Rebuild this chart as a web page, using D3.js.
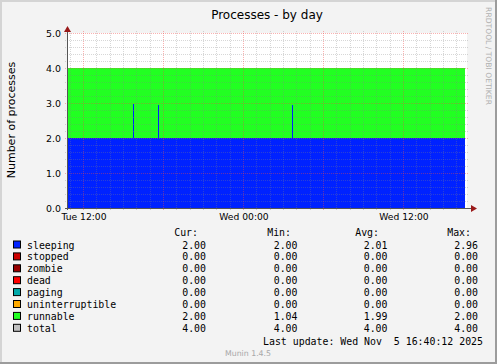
<!DOCTYPE html>
<html>
<head>
<meta charset="utf-8">
<script src="https://cdn.jsdelivr.net/npm/d3@7"></script>
<style>
  body { margin: 0; background: #f3f3f3; }
  text { font-family: "DejaVu Sans", sans-serif; }
  .mono { font-family: "DejaVu Sans Mono", monospace; font-size: 9.9px; white-space: pre; }
</style>
</head>
<body>
<div id="chart"></div>
<script>
var sampleTimes = ["2025-11-04T10:48", "2025-11-04T15:44", "2025-11-04T15:49", "2025-11-04T17:37", "2025-11-04T17:42",
                   "2025-11-05T03:40", "2025-11-05T03:45", "2025-11-05T16:40"];
var sleeping        = [2.00, 2.96, 2.00, 2.95, 2.00, 2.95, 2.00, 2.00];
var stopped         = [0, 0, 0, 0, 0, 0, 0, 0];
var zombie          = [0, 0, 0, 0, 0, 0, 0, 0];
var dead            = [0, 0, 0, 0, 0, 0, 0, 0];
var paging          = [0, 0, 0, 0, 0, 0, 0, 0];
var uninterruptible = [0, 0, 0, 0, 0, 0, 0, 0];
var runnable        = [2.00, 1.04, 2.00, 1.05, 2.00, 1.05, 2.00, 2.00];

var seriesNames  = ["sleeping", "stopped", "zombie", "dead", "paging", "uninterruptible", "runnable", "total"];
var seriesColors = ["#0022ff", "#cc0000", "#990000", "#ff0000", "#00aaaa", "#ffaa00", "#22ff22", "#c0c0c0"];
var curValues = ["2.00", "0.00", "0.00", "0.00", "0.00", "0.00", "2.00", "4.00"];
var minValues = ["2.00", "0.00", "0.00", "0.00", "0.00", "0.00", "1.04", "4.00"];
var avgValues = ["2.01", "0.00", "0.00", "0.00", "0.00", "0.00", "1.99", "4.00"];
var maxValues = ["2.96", "0.00", "0.00", "0.00", "0.00", "0.00", "2.00", "4.00"];

var yTicks = [0, 1, 2, 3, 4, 5];
var xLabelTimes = ["2025-11-04T12:00", "2025-11-05T00:00", "2025-11-05T12:00"];
var xLabels = ["Tue 12:00", "Wed 00:00", "Wed 12:00"];
var timeStart = "2025-11-04T10:48", timeEnd = "2025-11-05T16:48";

var W = 497, H = 364;
var pLeft = 67, pRight = 467, pTop = 33, pBottom = 208;

var svg = d3.select("#chart").append("svg")
    .attr("width", W).attr("height", H)

// background + 3d frame
svg.append("rect").attr("width", W).attr("height", H).attr("fill", "#f3f3f3")
svg.append("path").attr("d", "M1,363 V1 H496").attr("fill", "none").attr("stroke", "#d4d4d4").attr("stroke-width", 2)
svg.append("path").attr("d", "M0,363 H496 V0").attr("fill", "none").attr("stroke", "#9c9c9c").attr("stroke-width", 2)

var x = d3.scaleTime()
    .domain([new Date(timeStart), new Date(timeEnd)])
    .range([pLeft, pRight]);
var y = d3.scaleLinear()
    .domain([0, 5])
    .range([pBottom, pTop]);

// canvas
svg.append("rect").attr("x", pLeft).attr("y", pTop)
    .attr("width", pRight - pLeft).attr("height", pBottom - pTop).attr("fill", "#ffffff")

// stack the areas
var table = sampleTimes.map(function(t, i) {
    return {
        time: new Date(t), sleeping: sleeping[i], stopped: stopped[i], zombie: zombie[i],
        dead: dead[i], paging: paging[i], uninterruptible: uninterruptible[i], runnable: runnable[i]
    }
})
var keys = seriesNames.slice(0, 7)
var color = d3.scaleOrdinal().domain(seriesNames).range(seriesColors)
var stacked = d3.stack().keys(keys)(table)

var area = d3.area()
    .curve(d3.curveStepAfter)
    .x(function(d) { return x(d.data.time) })
    .y0(function(d) { return y(d[0]) })
    .y1(function(d) { return y(d[1]) })

svg.append("g").attr("shape-rendering", "crispEdges").selectAll("path")
    .data(stacked)
    .enter().append("path")
    .attr("fill", function(d) { return color(d.key) })
    .attr("d", area)

// grid, drawn over the data like rrdtool does
var minorCol = "rgba(130,130,130,0.32)", majorCol = "rgba(240,70,70,0.42)"
var grid = svg.append("g").attr("shape-rendering", "crispEdges")
var minorY = d3.range(0, 5.01, 0.2).filter(function(v) { return Math.abs(v - Math.round(v)) > 0.01 })
grid.selectAll(".hmin").data(minorY).enter().append("line")
    .attr("x1", pLeft - 2).attr("x2", pRight + 2)
    .attr("y1", function(d) { return Math.round(y(d)) + 0.5 })
    .attr("y2", function(d) { return Math.round(y(d)) + 0.5 })
    .attr("stroke", minorCol).attr("stroke-dasharray", "1,1")
var hours = d3.timeHour.range(new Date(timeStart), new Date(timeEnd))
grid.selectAll(".vmin").data(hours.filter(function(d) { return d.getHours() % 6 != 0 })).enter().append("line")
    .attr("x1", function(d) { return Math.round(x(d)) + 0.5 })
    .attr("x2", function(d) { return Math.round(x(d)) + 0.5 })
    .attr("y1", pTop - 2).attr("y2", pBottom + 2)
    .attr("stroke", minorCol).attr("stroke-dasharray", "1,1")
grid.selectAll(".hmaj").data(yTicks).enter().append("line")
    .attr("x1", pLeft - 2).attr("x2", pRight + 2)
    .attr("y1", function(d) { return Math.round(y(d)) + 0.5 })
    .attr("y2", function(d) { return Math.round(y(d)) + 0.5 })
    .attr("stroke", majorCol).attr("stroke-dasharray", "1,1")
grid.selectAll(".vmaj").data(hours.filter(function(d) { return d.getHours() % 6 == 0 })).enter().append("line")
    .attr("x1", function(d) { return Math.round(x(d)) + 0.5 })
    .attr("x2", function(d) { return Math.round(x(d)) + 0.5 })
    .attr("y1", pTop - 2).attr("y2", pBottom + 2)
    .attr("stroke", majorCol).attr("stroke-dasharray", "1,1")

// axes with arrows
svg.append("line").attr("x1", pLeft + 0.5).attr("x2", pLeft + 0.5).attr("y1", pBottom + 2).attr("y2", pTop - 4)
    .attr("stroke", "#555").attr("shape-rendering", "crispEdges")
svg.append("line").attr("x1", pLeft - 2).attr("x2", pRight + 5).attr("y1", pBottom + 0.5).attr("y2", pBottom + 0.5)
    .attr("stroke", "#555").attr("shape-rendering", "crispEdges")
svg.append("path").attr("d", "M64," + (pTop - 1) + " L71," + (pTop - 1) + " L67.5," + (pTop - 7) + " Z").attr("fill", "#9a1a1a")
svg.append("path").attr("d", "M" + (pRight + 4) + "," + (pBottom - 3) + " L" + (pRight + 4) + "," + (pBottom + 4) + " L" + (pRight + 10) + "," + (pBottom + 0.5) + " Z").attr("fill", "#9a1a1a")

// tick labels
svg.selectAll(".ylab").data(yTicks).enter().append("text")
    .attr("x", 61).attr("y", function(d) { return y(d) + 3.5 })
    .attr("text-anchor", "end").attr("font-size", "9.4px").attr("fill", "#000")
    .text(function(d) { return d.toFixed(1) })
svg.selectAll(".xlab").data(xLabelTimes).enter().append("text")
    .attr("x", function(d) { return x(new Date(d)) + 1 }).attr("y", 220)
    .attr("text-anchor", "middle").attr("font-size", "9.2px").attr("fill", "#000")
    .text(function(d, i) { return xLabels[i] })

// title and labels
svg.append("text").attr("x", 267).attr("y", 18.5).attr("text-anchor", "middle")
    .attr("font-size", "12px").text("Processes - by day")
svg.append("text").attr("transform", "translate(15,120) rotate(-90)").attr("text-anchor", "middle")
    .attr("font-size", "11px").text("Number of processes")
svg.append("text").attr("transform", "translate(486,56) rotate(90)").attr("text-anchor", "middle")
    .attr("font-size", "7.6px").attr("fill", "#b0b0b0").text("RRDTOOL / TOBI OETIKER")

// legend
var rowY = function(i) { return 248.5 + i * 11.9 }
var headers = [["Cur:", 198], ["Min:", 291], ["Avg:", 379], ["Max:", 471]]
svg.selectAll(".hdr").data(headers).enter().append("text")
    .attr("class", "mono").attr("x", function(d) { return d[1] }).attr("y", 235.5)
    .attr("text-anchor", "end").text(function(d) { return d[0] })

var rows = svg.selectAll(".row").data(seriesNames).enter().append("g")
rows.append("rect")
    .attr("x", 13.5).attr("y", function(d, i) { return rowY(i) - 7.5 })
    .attr("width", 7).attr("height", 7)
    .attr("fill", function(d) { return color(d) }).attr("stroke", "#000")
rows.append("text").attr("class", "mono")
    .attr("x", 27).attr("y", function(d, i) { return rowY(i) })
    .text(function(d) { return d })
var cols = [[curValues, 206], [minValues, 297.5], [avgValues, 387.5], [maxValues, 478]]
cols.forEach(function(c) {
    rows.append("text").attr("class", "mono")
        .attr("x", c[1]).attr("y", function(d, i) { return rowY(i) })
        .attr("text-anchor", "end")
        .text(function(d, i) { return c[0][i] })
})

svg.append("text").attr("class", "mono").attr("x", 483).attr("y", 345)
    .attr("text-anchor", "end").text("Last update: Wed Nov  5 16:40:12 2025")
svg.append("text").attr("x", 248).attr("y", 355.5).attr("text-anchor", "middle")
    .attr("font-size", "7.8px").attr("fill", "#a8a8a8").text("Munin 1.4.5")
</script>
</body>
</html>
